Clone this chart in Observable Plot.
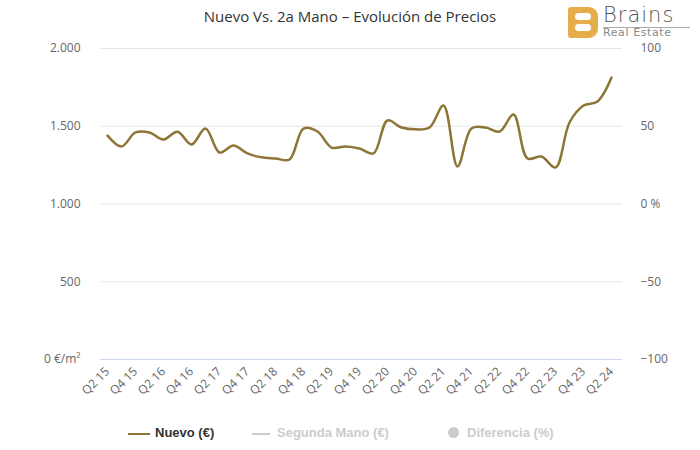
<!DOCTYPE html>
<html>
<head>
<meta charset="utf-8">
<script src="https://cdn.jsdelivr.net/npm/d3@7"></script>
<script src="https://cdn.jsdelivr.net/npm/@observablehq/plot@0.6"></script>
<style>
  html, body { margin: 0; padding: 0; background: #fff; }
  #wrap { position: relative; width: 700px; height: 450px; overflow: hidden; font-family: "Open Sans", sans-serif; }
  #title { position: absolute; top: 6px; left: 0; width: 700px; text-align: center; font-size: 15px; color: #333; }
  #chart { position: absolute; top: 30px; left: 0; }
  #logo { position: absolute; left: 568px; top: 4px; width: 130px; height: 35px; }
  .lg { position: absolute; top: 425px; font-family: "Liberation Sans", Arial, sans-serif; font-size: 13px; font-weight: bold; white-space: nowrap; }
</style>
</head>
<body>
<div id="wrap">
  <div id="title">Nuevo Vs. 2a Mano – Evolución de Precios</div>
  <div id="logo">
    <div style="position:absolute;left:0;top:3px;width:30px;height:31px;background:#e6ae4a;border-radius:3px 9px 9px 3px;"></div>
    <div style="position:absolute;left:7px;top:9px;width:16px;height:7px;background:#fff;border-radius:4px;"></div>
    <div style="position:absolute;left:7px;top:20px;width:16px;height:7px;background:#fff;border-radius:4px;"></div>
    <div style="position:absolute;left:35px;top:1px;font-family:'DejaVu Sans',sans-serif;font-size:21px;line-height:21px;font-weight:200;color:#555;letter-spacing:1px;">Brains</div>
    <div style="position:absolute;left:35px;top:23px;width:87px;height:1px;background:#aaa;"></div>
    <div style="position:absolute;left:35px;top:24px;font-family:'DejaVu Sans',sans-serif;font-size:11px;line-height:10px;color:#888;letter-spacing:0.6px;">Real Estate</div>
  </div>
  <div id="chart"></div>
  <div class="lg" style="left:128px;"><span style="display:inline-block;width:22px;height:2px;background:#8c7535;vertical-align:middle;margin-right:5px;"></span><span style="color:#333;">Nuevo (€)</span></div>
  <div class="lg" style="left:252px;"><span style="display:inline-block;width:18px;height:2px;background:#ccc;vertical-align:middle;margin-right:7px;"></span><span style="color:#ccc;">Segunda Mano (€)</span></div>
  <div class="lg" style="left:448px;"><span style="display:inline-block;width:11px;height:11px;border-radius:50%;background:#ccc;vertical-align:-1px;margin-right:8px;"></span><span style="color:#ccc;">Diferencia (%)</span></div>
</div>
<script>
const quarters = ["Q2 15","Q3 15","Q4 15","Q1 16","Q2 16","Q3 16","Q4 16","Q1 17","Q2 17","Q3 17","Q4 17","Q1 18","Q2 18","Q3 18","Q4 18","Q1 19","Q2 19","Q3 19","Q4 19","Q1 20","Q2 20","Q3 20","Q4 20","Q1 21","Q2 21","Q3 21","Q4 21","Q1 22","Q2 22","Q3 22","Q4 22","Q1 23","Q2 23","Q3 23","Q4 23","Q1 24","Q2 24"];
const nuevo = [1440,1370,1460,1460,1415,1465,1383,1485,1331,1376,1325,1300,1293,1286,1485,1466,1363,1370,1357,1325,1537,1492,1480,1492,1633,1241,1486,1492,1466,1575,1293,1305,1235,1524,1633,1659,1813];
const xTickLabels = ["Q2 15","Q4 15","Q2 16","Q4 16","Q2 17","Q4 17","Q2 18","Q4 18","Q2 19","Q4 19","Q2 20","Q4 20","Q2 21","Q4 21","Q2 22","Q4 22","Q2 23","Q4 23","Q2 24"];
const leftTicks = [0, 500, 1000, 1500, 2000];
const leftLabels = ["0 €/m²", "500", "1.000", "1.500", "2.000"];
const rightTicks = [-100, -50, 0, 50, 100];
const rightLabels = ["−100", "−50", "0 %", "50", "100"];

const data = quarters.map((q, i) => ({q, v: nuevo[i]}));
// right axis (-100..100) shares the left scale: map to 0..2000
const rightAsLeft = rightTicks.map(r => (r + 100) * 10);

const chart = Plot.plot({
  width: 700,
  height: 380,
  marginTop: 18,
  marginBottom: 51,
  marginLeft: 100,
  marginRight: 78,
  style: {fontFamily: "'Open Sans', sans-serif", fontSize: "12px", color: "#666", background: "transparent"},
  x: {type: "point", domain: quarters, padding: 0, insetLeft: 4, insetRight: 8, label: null},
  y: {domain: [0, 2000], label: null},
  marks: [
    Plot.ruleY(leftTicks.filter(d => d > 0), {stroke: "#e6e6e6"}),
    Plot.ruleY([0], {stroke: "#ccd6eb"}),
    Plot.axisY({ticks: leftTicks, tickFormat: d => leftLabels[leftTicks.indexOf(d)], tickSize: 0, tickPadding: 20, label: null}),
    Plot.axisY({anchor: "right", ticks: rightAsLeft, tickFormat: d => rightLabels[rightAsLeft.indexOf(d)], tickSize: 0, tickPadding: 18, label: null}),
    Plot.axisX({ticks: xTickLabels, tickRotate: -45, tickSize: 0, tickPadding: 10, label: null}),
    Plot.line(data, {x: "q", y: "v", stroke: "#8c7535", strokeWidth: 2.5, curve: "catmull-rom"})
  ]
});
document.getElementById("chart").appendChild(chart);
</script>
</body>
</html>
